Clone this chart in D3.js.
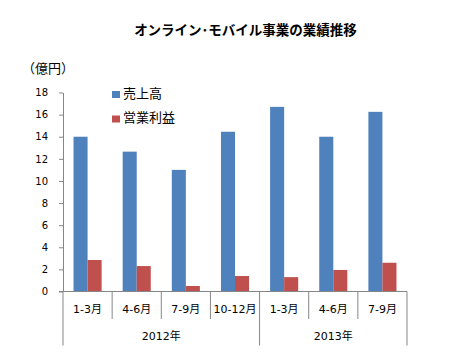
<!DOCTYPE html>
<html>
<head>
<meta charset="utf-8">
<script src="https://cdn.jsdelivr.net/npm/d3@7"></script>
<style>
  body { margin: 0; background: #fff; }
  text { font-family: "DejaVu Sans", "Noto Sans CJK JP", sans-serif; fill: #000; }
</style>
</head>
<body>
<div id="chart"></div>
<script>
// Data
var quarters = ["1-3月", "4-6月", "7-9月", "10-12月", "1-3月", "4-6月", "7-9月"];
var years = [{ label: "2012年", start: 0, end: 4 }, { label: "2013年", start: 4, end: 7 }];
var seriesNames = ["売上高", "営業利益"];
var sales = [14.0, 12.65, 11.0, 14.45, 16.7, 14.0, 16.25];
var profit = [2.85, 2.3, 0.5, 1.4, 1.3, 1.95, 2.6];
var yTicks = [0, 2, 4, 6, 8, 10, 12, 14, 16, 18];
var colors = ["#4F81BD", "#C0504D"];

var svgWidth = 452;
var svgHeight = 363;
var margin = { top: 92.5, left: 63, right: 45, bottom: 71.5 };
var width = svgWidth - margin.left - margin.right;
var height = svgHeight - margin.top - margin.bottom;

var svg = d3.select("#chart").append("svg")
    .attr("width", svgWidth)
    .attr("height", svgHeight);

// Title
svg.append("text")
    .attr("x", 245.5)
    .attr("y", 35)
    .attr("text-anchor", "middle")
    .style("font-family", "'Noto Sans CJK JP', sans-serif")
    .style("font-size", "13.5px")
    .style("font-weight", "bold")
    .text("オンライン･モバイル事業の業績推移");

// Unit label
svg.append("text")
    .attr("x", 22)
    .attr("y", 73)
    .style("font-family", "'Noto Sans CJK JP', sans-serif")
    .style("font-size", "13px")
    .text("（億円）");

var chartGroup = svg.append("g")
    .attr("transform", `translate(${margin.left}, ${margin.top})`);

var xScale = d3.scaleBand()
    .domain(d3.range(quarters.length))
    .range([0, width])
    .padding(0);

var xInner = d3.scaleBand()
    .domain(seriesNames)
    .range([0, xScale.bandwidth()])
    .paddingInner(0)
    .paddingOuter(0.75);

var yScale = d3.scaleLinear()
    .domain([0, 18])
    .range([height, 0]);

// Bars
var rows = quarters.map((q, i) => ({ i: i, values: [sales[i], profit[i]] }));
var groups = chartGroup.selectAll("g.bar-group")
    .data(rows)
    .enter()
    .append("g")
    .attr("class", "bar-group")
    .attr("transform", d => `translate(${xScale(d.i)}, 0)`);

groups.selectAll("rect")
    .data(d => d.values.map((v, k) => ({ name: seriesNames[k], value: v, k: k })))
    .enter()
    .append("rect")
    .attr("x", d => xInner(d.name))
    .attr("y", d => yScale(d.value))
    .attr("width", xInner.bandwidth())
    .attr("height", d => height - yScale(d.value))
    .attr("fill", d => colors[d.k]);

// Y axis
var leftAxis = d3.axisLeft(yScale)
    .tickValues(yTicks)
    .tickSizeInner(4)
    .tickSizeOuter(0)
    .tickPadding(11);

var yAxis = chartGroup.append("g").call(leftAxis);
yAxis.select(".domain").attr("stroke", "#868686");
yAxis.selectAll(".tick line").attr("stroke", "#868686");
yAxis.selectAll(".tick text")
    .style("font-size", "10px")
    .style("font-family", "'DejaVu Sans', sans-serif");

// X axis: baseline, category separators, group separators
var axisColor = "#868686";
chartGroup.append("line")
    .attr("x1", -4).attr("x2", width)
    .attr("y1", height).attr("y2", height)
    .attr("stroke", axisColor);

var bounds = d3.range(quarters.length + 1);
var groupEdges = [0, 4, 7];
chartGroup.selectAll("line.sep")
    .data(bounds)
    .enter()
    .append("line")
    .attr("class", "sep")
    .attr("x1", d => d === quarters.length ? width : xScale(d))
    .attr("x2", d => d === quarters.length ? width : xScale(d))
    .attr("y1", height)
    .attr("y2", d => groupEdges.includes(d) ? height + 54 : height + 27.5)
    .attr("stroke", axisColor);

chartGroup.selectAll("text.quarter")
    .data(quarters)
    .enter()
    .append("text")
    .attr("class", "quarter")
    .attr("x", (d, i) => xScale(i) + xScale.bandwidth() / 2)
    .attr("y", height + 21)
    .attr("text-anchor", "middle")
    .style("font-size", "11px")
    .text(d => d);

chartGroup.selectAll("text.year")
    .data(years)
    .enter()
    .append("text")
    .attr("class", "year")
    .attr("x", d => (xScale(d.start) + (d.end === quarters.length ? width : xScale(d.end))) / 2)
    .attr("y", height + 48)
    .attr("text-anchor", "middle")
    .style("font-size", "11px")
    .text(d => d.label);

// Legend
var legend = svg.selectAll("g.legend")
    .data(seriesNames)
    .enter()
    .append("g")
    .attr("class", "legend")
    .attr("transform", (d, i) => `translate(112, ${91 + i * 24.5})`);

legend.append("rect")
    .attr("width", 8)
    .attr("height", 7)
    .attr("y", 0)
    .attr("fill", (d, i) => colors[i]);

legend.append("text")
    .attr("x", 11)
    .attr("y", 6.5)
    .style("font-family", "'Noto Sans CJK JP', sans-serif")
    .style("font-size", "13px")
    .text(d => d);
</script>
</body>
</html>
